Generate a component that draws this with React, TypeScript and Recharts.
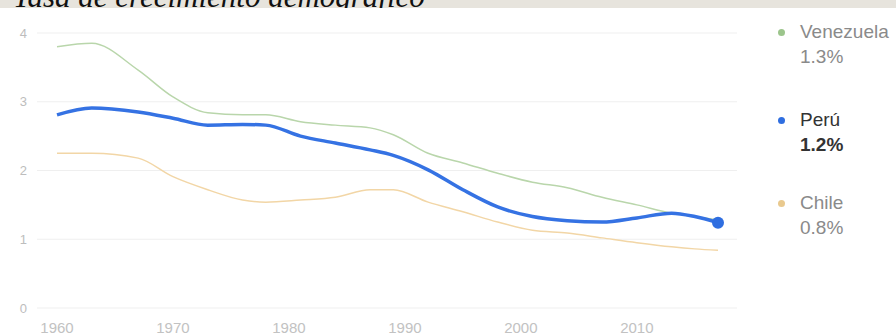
import { CartesianGrid, Line, LineChart, ReferenceDot, XAxis, YAxis } from "recharts";

const years = [1960, 1963, 1967, 1970, 1973, 1976, 1978, 1981, 1984, 1987, 1989, 1992, 1995, 1998, 2001, 2004, 2007, 2010, 2013, 2015, 2017];
const venezuela = [3.8, 3.85, 3.46, 3.07, 2.84, 2.81, 2.81, 2.71, 2.66, 2.62, 2.52, 2.25, 2.11, 1.96, 1.83, 1.75, 1.61, 1.5, 1.38, 1.33, 1.28];
const peru = [2.81, 2.91, 2.85, 2.76, 2.66, 2.67, 2.66, 2.5, 2.4, 2.3, 2.22, 2.01, 1.72, 1.47, 1.33, 1.27, 1.25, 1.31, 1.38, 1.33, 1.24];
const chile = [2.25, 2.25, 2.18, 1.91, 1.72, 1.57, 1.54, 1.57, 1.61, 1.72, 1.72, 1.54, 1.4, 1.25, 1.13, 1.09, 1.02, 0.95, 0.89, 0.86, 0.84];

const xTicks = [1960, 1970, 1980, 1990, 2000, 2010];
const yTicks = [0, 1, 2, 3, 4];
const title = "Tasa de crecimiento demográfico";

const series = [
  { key: "venezuela", name: "Venezuela", values: venezuela, color: "#b9d6ab", dot: "#9cc58c", width: 1.5, text: "#8a8a8a", bold: false },
  { key: "peru", name: "Perú", values: peru, color: "#3572e3", dot: "#2f6ee0", width: 3.5, text: "#333", bold: true },
  { key: "chile", name: "Chile", values: chile, color: "#f2d6a6", dot: "#e9c98e", width: 1.5, text: "#8a8a8a", bold: false },
];

const data = years.map((year, i) => ({
  year,
  venezuela: venezuela[i],
  peru: peru[i],
  chile: chile[i],
}));

const legendTops = [19, 107, 190];
const font = "'Liberation Sans', Arial, sans-serif";

export default function App() {
  const lastYear = years[years.length - 1];
  return (
    <div style={{ position: "absolute", left: 0, top: 0, width: 896, height: 335, overflow: "hidden", background: "#fff" }}>
      <svg width={896} height={8} style={{ position: "absolute", left: 0, top: 0, background: "#e7e4dd" }}>
        <text x={13} y={7} fontFamily="'Liberation Serif', 'Times New Roman', serif" fontStyle="italic" fontSize={31} fill="#111">
          {title}
        </text>
      </svg>
      <div style={{ position: "absolute", left: 0, top: 0 }}>
        <LineChart width={896} height={335} data={data} margin={{ top: 33, right: 159, left: 0, bottom: 0 }}>
          <CartesianGrid vertical={false} stroke="#efefef" />
          <XAxis
            dataKey="year"
            type="number"
            domain={[1960, 2017]}
            ticks={xTicks}
            padding={{ left: 20, right: 19 }}
            axisLine={false}
            tickLine={false}
            tickSize={6}
            tickMargin={8}
            height={27}
            tick={{ fontSize: 15, fill: "#c2c2c2", fontFamily: font }}
          />
          <YAxis
            type="number"
            domain={[0, 4]}
            ticks={yTicks}
            axisLine={false}
            tickLine={false}
            tickSize={6}
            tickMargin={4}
            width={37}
            tick={{ fontSize: 13, fill: "#bdbdbd", fontFamily: font }}
          />
          {series.map((s) => (
            <Line
              key={s.key}
              type="monotone"
              dataKey={s.key}
              stroke={s.color}
              strokeWidth={s.width}
              dot={false}
              isAnimationActive={false}
            />
          ))}
          <ReferenceDot x={lastYear} y={peru[peru.length - 1]} r={6} fill="#2f6ee0" stroke="none" />
        </LineChart>
      </div>
      {series.map((s, i) => (
        <div
          key={s.key}
          style={{ position: "absolute", left: 778, top: legendTops[i], fontFamily: font, fontSize: 19, lineHeight: "25px", color: s.text }}
        >
          <span
            style={{ position: "absolute", left: 0, top: 10, width: 7, height: 7, borderRadius: "50%", background: s.dot }}
          />
          <div style={{ marginLeft: 22, whiteSpace: "nowrap" }}>{s.name}</div>
          <div style={{ marginLeft: 22, fontWeight: s.bold ? "bold" : "normal" }}>
            {s.values[s.values.length - 1].toFixed(1)}%
          </div>
        </div>
      ))}
    </div>
  );
}
